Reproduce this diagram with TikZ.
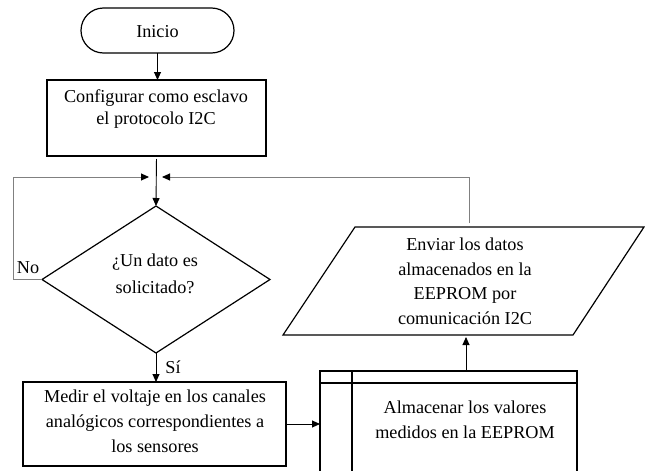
\documentclass[tikz,border=0pt]{standalone}
\usepackage{fontspec}
\setmainfont{Liberation Serif}
\usetikzlibrary{arrows.meta,shapes.geometric}
\begin{document}
\begin{tikzpicture}[x=1pt,y=-1pt,
  font=\fontsize{18.2}{23}\selectfont,
  box/.style={draw=black,line width=1.2pt,inner sep=0pt,outer sep=0pt},
  txt/.style={align=center,inner sep=0pt},
  arr/.style={draw=black,line width=0.9pt,-{Triangle[length=8pt,width=7pt]}},
  loopline/.style={draw=black!50,line width=0.9pt,-{Triangle[length=8pt,width=7pt,color=black]}},
  shapeline/.style={draw=black,line width=1.2pt}
]
\useasboundingbox (0,0) rectangle (645,471);

% Inicio
\node[box, rounded corners=22.5pt, minimum width=153pt, minimum height=45pt] (ini) at (157.5,30.5) {};
\node[txt] (tini) at (157.5,32) {Inicio};

% Configurar
\node[box, minimum width=219pt, minimum height=76pt] (cfg) at (156.5,118) {};
\node[txt, font=\fontsize{18.2}{22}\selectfont] (tcfg) at (156,109) {Configurar como esclavo\\el protocolo I2C};

% Decision
\node[box, diamond, minimum width=228pt, minimum height=147pt] (dec) at (156,279.5) {};
\node[txt, font=\fontsize{18.2}{27}\selectfont] (tdec) at (155,273.5) {¿Un dato es\\solicitado?};

% Parallelogram
\coordinate (pTL) at (355,227);
\coordinate (pTR) at (644,227);
\coordinate (pBR) at (573,335);
\coordinate (pBL) at (283,335);
\draw[shapeline] (pTL) -- (pTR) -- (pBR) -- (pBL) -- cycle;
\node[txt, font=\fontsize{18.2}{24.5}\selectfont] (tpar) at (465,281.5) {Enviar los datos\\almacenados en la\\EEPROM por\\comunicación I2C};

% Medir
\node[box, minimum width=263pt, minimum height=84pt] (med) at (154.5,424) {};
\node[txt, font=\fontsize{18.2}{25}\selectfont] (tmed) at (155,421) {Medir el voltaje en los canales\\analógicos correspondientes a\\los sensores};

% Almacenar (predefined process, cut at bottom)
\coordinate (aBL) at (320,471);
\coordinate (aTL) at (320,371);
\coordinate (aTR) at (577,371);
\coordinate (aBR) at (577,471);
\draw[shapeline] (aBL) -- (aTL) -- (aTR) -- (aBR);
\draw[shapeline] (320,383) -- (577,383);
\draw[shapeline] (352,371) -- (352,471);
\node[txt, font=\fontsize{18.2}{25}\selectfont] (talm) at (465,420) {Almacenar los valores\\medidos en la EEPROM};

% Labels
\node[txt] (lno) at (28,268) {No};
\node[txt] (lsi) at (173,367) {Sí};

% Connectors
\coordinate (j) at (156,177);
\coordinate (pT) at (469,227);
\coordinate (aT) at (466,371);
\coordinate (pB) at (466,335);

\draw[arr] (ini.south) -- (ini.south |- cfg.north);
\draw[arr, shorten <=3pt] (cfg.south) -- (dec.north);
\draw[loopline] (dec.west) -- ++(-29,0) |- ([xshift=-7pt]j);
\draw[loopline, shorten <=4pt] (pT) |- ([xshift=6pt]j);
\draw[arr] (dec.south) -- (dec.south |- med.north);
\draw[arr] (med.east) -- (med.east -| aTL);
\draw[arr, shorten >=2pt] (aT) -- (pB);
\end{tikzpicture}
\end{document}
